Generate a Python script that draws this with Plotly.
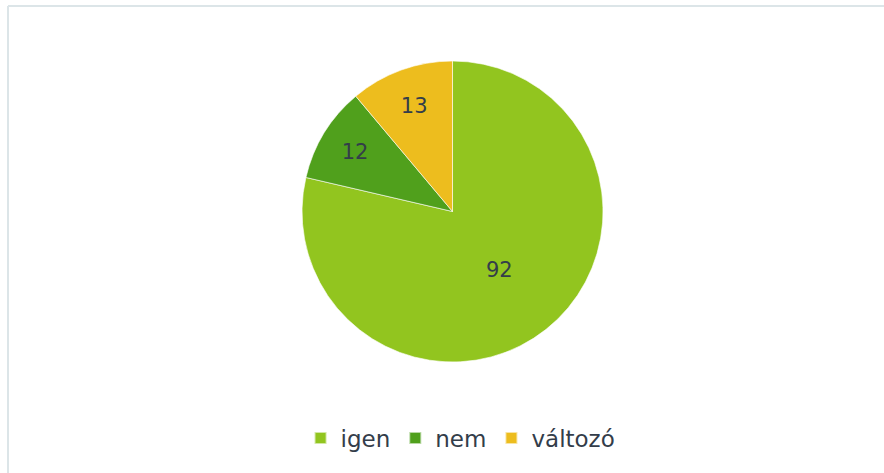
import plotly.graph_objects as go

valaszok = ["igen", "nem", "változó"]
darab = [92, 12, 13]
szinek = ["#92C51F", "#50A01C", "#EDBD1E"]

fig = go.Figure()
fig.add_trace(go.Pie(
    labels=valaszok, values=darab, sort=False, direction="clockwise", rotation=0,
    marker=dict(colors=szinek, line=dict(color="rgba(255,255,255,0.6)", width=1)),
    textinfo="value", textposition="inside", insidetextorientation="horizontal",
    textfont=dict(family="DejaVu Sans", size=21, color="#333D4A"),
    domain=dict(x=[0.3405, 0.6833], y=[0.2347, 0.871]),
    hoverinfo="label+value+percent",
))

# vékony keret bal és felső oldalon
fig.add_shape(type="line", xref="paper", yref="paper", x0=8/884, x1=1, y0=1-6/473, y1=1-6/473,
              line=dict(color="#DCE5E8", width=2))
fig.add_shape(type="line", xref="paper", yref="paper", x0=8/884, x1=8/884, y0=0, y1=1-6/473,
              line=dict(color="#DCE5E8", width=2))

fig.update_layout(
    width=884, height=473,
    margin=dict(l=0, r=0, t=0, b=0),
    paper_bgcolor="white", plot_bgcolor="white",
    showlegend=True,
    legend=dict(orientation="h", x=0.521, xanchor="center", y=1-438/473, yanchor="middle",
                font=dict(family="DejaVu Sans", size=23, color="#333D4A"),
                itemsizing="constant", itemwidth=30, tracegroupgap=0),
)

fig.write_html("out.html", config={"displayModeBar": False},
               post_script="document.body.style.margin='0';")
